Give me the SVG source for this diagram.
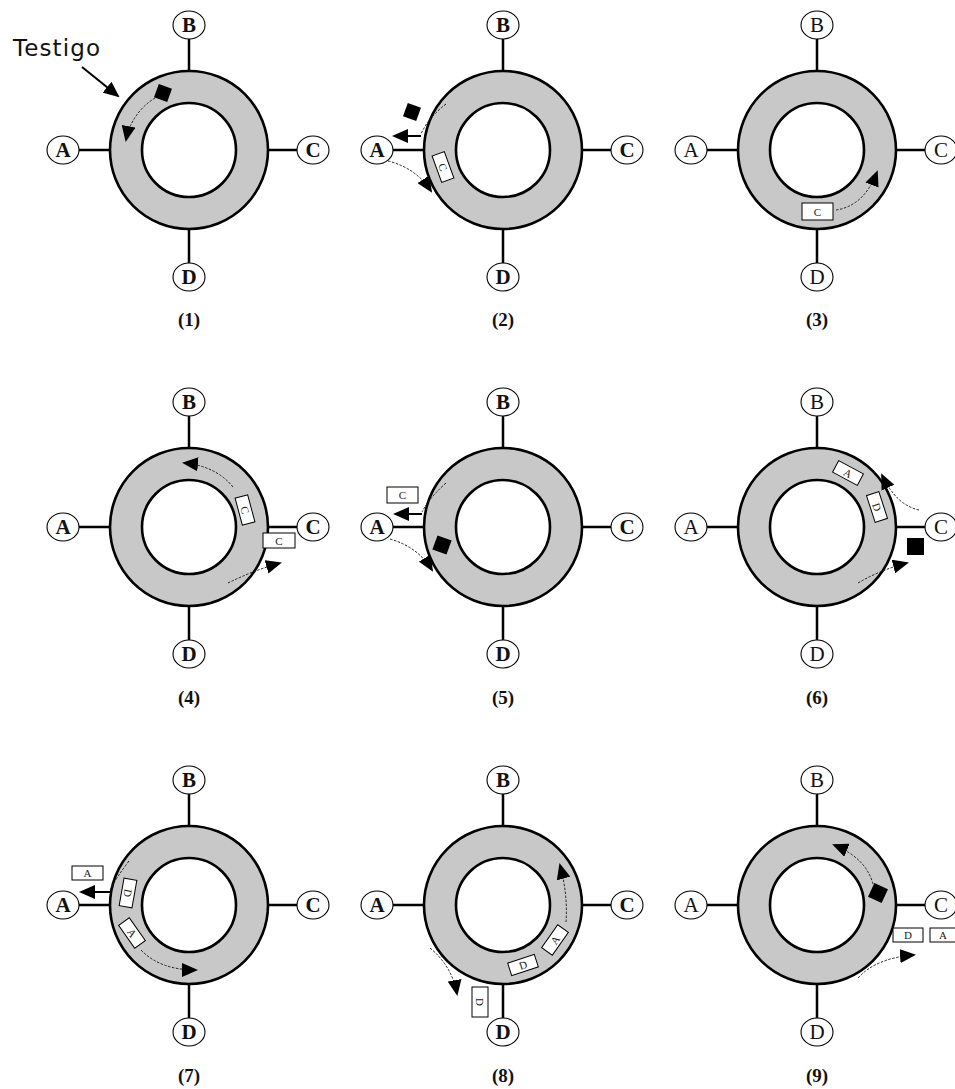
<svg xmlns="http://www.w3.org/2000/svg" width="955" height="1089" viewBox="0 0 955 1089">
<defs>
<style>
.bg{fill:#fff}
.outer{fill:#c8c8c8;stroke:#000;stroke-width:2.6}
.inner{fill:#fff;stroke:#000;stroke-width:2.6}
.link{stroke:#000;stroke-width:2.5;fill:none}
.node ellipse{fill:#fff;stroke:#000;stroke-width:1.1}
.nt{font-family:"Liberation Serif",serif;font-size:21px;font-weight:bold;text-anchor:middle;fill:#111}
.nr{font-weight:normal}
.cap{font-family:"Liberation Serif",serif;font-size:19px;font-weight:bold;text-anchor:middle;fill:#111}
.fr{fill:#fff;stroke:#000;stroke-width:1}
.ft{font-family:"Liberation Serif",serif;font-size:11px;text-anchor:middle;fill:#222}
.tok{fill:#000}
.dot{fill:none;stroke:#222;stroke-width:1;stroke-dasharray:2.5 1.5;marker-end:url(#ah)}
.dotn{fill:none;stroke:#222;stroke-width:1;stroke-dasharray:2.5 1.5}
.arr{fill:none;stroke:#000;stroke-width:2;marker-end:url(#ah)}
</style>
<marker id="ah" viewBox="0 0 16 14" refX="14" refY="7" markerWidth="16" markerHeight="14" markerUnits="userSpaceOnUse" orient="auto">
<path d="M0,0 L16,7 L0,14 z" fill="#000"/>
</marker>
<g id="ring"><circle class="outer" r="79"/><circle class="inner" r="47"/></g>
</defs>
<rect class="bg" width="955" height="1089"/>

<!-- connectors: ring-to-station links -->
<g id="connectors">
<path class="link" d="M189,39V71 M189,229V263 M79,150H110 M268,150H297"/>
<path class="link" d="M503,39V71 M503,229V263 M393,150H424 M582,150H611"/>
<path class="link" d="M817,39V71 M817,229V263 M707,150H738 M896,150H925"/>
<path class="link" d="M189,416V448 M189,606V640 M79,527H110 M268,527H297"/>
<path class="link" d="M503,416V448 M503,606V640 M393,527H424 M582,527H611"/>
<path class="link" d="M817,416V448 M817,606V640 M707,527H738 M896,527H925"/>
<path class="link" d="M189,794V826 M189,984V1018 M79,905H110 M268,905H297"/>
<path class="link" d="M503,794V826 M503,984V1018 M393,905H424 M582,905H611"/>
<path class="link" d="M817,794V826 M817,984V1018 M707,905H738 M896,905H925"/>
</g>

<!-- Diagram 1 -->
<g id="diagram1">
<use href="#ring" x="189" y="150"/>
<g id="d1-B" class="node"><ellipse cx="189" cy="25" rx="16" ry="14"/><text class="nt" x="189" y="32">B</text></g>
<g id="d1-A" class="node"><ellipse cx="63" cy="150" rx="16" ry="14"/><text class="nt" x="63" y="157">A</text></g>
<g id="d1-C" class="node"><ellipse cx="313" cy="150" rx="16" ry="14"/><text class="nt" x="313" y="157">C</text></g>
<g id="d1-D" class="node"><ellipse cx="189" cy="277" rx="16" ry="14"/><text class="nt" x="189" y="284">D</text></g>
<rect class="tok" x="-7" y="-7" width="14" height="14" transform="translate(163,93) rotate(20)"/>
<path class="dot" d="M155,98 A63,63 0 0 0 126,140"/>
<text x="13" y="56" font-family="DejaVu Sans, sans-serif" font-size="23" fill="#111" textLength="87">Testigo</text>
<path class="arr" d="M82,67 L118,96"/>
<text class="cap" x="189" y="326">(1)</text>
</g>

<!-- Diagram 2 -->
<g id="diagram2">
<use href="#ring" x="503" y="150"/>
<g id="d2-B" class="node"><ellipse cx="503" cy="25" rx="16" ry="14"/><text class="nt" x="503" y="32">B</text></g>
<g id="d2-A" class="node"><ellipse cx="377" cy="150" rx="16" ry="14"/><text class="nt" x="377" y="157">A</text></g>
<g id="d2-C" class="node"><ellipse cx="627" cy="150" rx="16" ry="14"/><text class="nt" x="627" y="157">C</text></g>
<g id="d2-D" class="node"><ellipse cx="503" cy="277" rx="16" ry="14"/><text class="nt" x="503" y="284">D</text></g>
<rect class="tok" x="-7" y="-7" width="14" height="14" transform="translate(412,112) rotate(20)"/>
<path class="dotn" d="M446,104 Q428,118 421,134"/>
<path class="arr" d="M421,136 L394,136"/>
<g transform="translate(443,167) rotate(70)"><rect class="fr" x="-14" y="-6.5" width="28" height="13"/><text class="ft" y="4">C</text></g>
<path class="dot" d="M388,161 Q416,168 431,191"/>
<text class="cap" x="503" y="326">(2)</text>
</g>

<!-- Diagram 3 -->
<g id="diagram3">
<use href="#ring" x="817" y="150"/>
<g id="d3-B" class="node"><ellipse cx="817" cy="25" rx="16" ry="14"/><text class="nt nr" x="817" y="32">B</text></g>
<g id="d3-A" class="node"><ellipse cx="691" cy="150" rx="16" ry="14"/><text class="nt nr" x="691" y="157">A</text></g>
<g id="d3-C" class="node"><ellipse cx="941" cy="150" rx="16" ry="14"/><text class="nt nr" x="941" y="157">C</text></g>
<g id="d3-D" class="node"><ellipse cx="817" cy="277" rx="16" ry="14"/><text class="nt nr" x="817" y="284">D</text></g>
<rect class="fr" x="802" y="203" width="31" height="17"/><text class="ft" x="817.5" y="215.5">C</text>
<path class="dot" d="M836,210 Q864,206 877,172"/>
<text class="cap" x="817" y="326">(3)</text>
</g>

<!-- Diagram 4 -->
<g id="diagram4">
<use href="#ring" x="189" y="527"/>
<g id="d4-B" class="node"><ellipse cx="189" cy="402" rx="16" ry="14"/><text class="nt" x="189" y="409">B</text></g>
<g id="d4-A" class="node"><ellipse cx="63" cy="527" rx="16" ry="14"/><text class="nt" x="63" y="534">A</text></g>
<g id="d4-C" class="node"><ellipse cx="313" cy="527" rx="16" ry="14"/><text class="nt" x="313" y="534">C</text></g>
<g id="d4-D" class="node"><ellipse cx="189" cy="654" rx="16" ry="14"/><text class="nt" x="189" y="661">D</text></g>
<path class="dot" d="M233,487 Q216,466 184,463"/>
<g transform="translate(245,510) rotate(75)"><rect class="fr" x="-14" y="-6.5" width="28" height="13"/><text class="ft" y="4">C</text></g>
<rect class="fr" x="263" y="533" width="32" height="15"/><text class="ft" x="279" y="544.5">C</text>
<path class="dot" d="M228,583 Q252,571 280,563"/>
<text class="cap" x="189" y="704">(4)</text>
</g>

<!-- Diagram 5 -->
<g id="diagram5">
<use href="#ring" x="503" y="527"/>
<g id="d5-B" class="node"><ellipse cx="503" cy="402" rx="16" ry="14"/><text class="nt" x="503" y="409">B</text></g>
<g id="d5-A" class="node"><ellipse cx="377" cy="527" rx="16" ry="14"/><text class="nt" x="377" y="534">A</text></g>
<g id="d5-C" class="node"><ellipse cx="627" cy="527" rx="16" ry="14"/><text class="nt" x="627" y="534">C</text></g>
<g id="d5-D" class="node"><ellipse cx="503" cy="654" rx="16" ry="14"/><text class="nt" x="503" y="661">D</text></g>
<rect class="fr" x="387" y="487" width="31" height="16"/><text class="ft" x="402.5" y="499">C</text>
<path class="dotn" d="M446,483 Q430,497 422,512"/>
<path class="arr" d="M422,514 L395,514"/>
<rect class="tok" x="-7.5" y="-7.5" width="15" height="15" transform="translate(442,545) rotate(20)"/>
<path class="dot" d="M390,539 Q418,547 432,570"/>
<text class="cap" x="503" y="704">(5)</text>
</g>

<!-- Diagram 6 -->
<g id="diagram6">
<use href="#ring" x="817" y="527"/>
<g id="d6-B" class="node"><ellipse cx="817" cy="402" rx="16" ry="14"/><text class="nt nr" x="817" y="409">B</text></g>
<g id="d6-A" class="node"><ellipse cx="691" cy="527" rx="16" ry="14"/><text class="nt nr" x="691" y="534">A</text></g>
<g id="d6-C" class="node"><ellipse cx="941" cy="527" rx="16" ry="14"/><text class="nt nr" x="941" y="534">C</text></g>
<g id="d6-D" class="node"><ellipse cx="817" cy="654" rx="16" ry="14"/><text class="nt nr" x="817" y="661">D</text></g>
<g transform="translate(848,473) rotate(28)"><rect class="fr" x="-14" y="-6.5" width="28" height="13"/><text class="ft" y="4">A</text></g>
<g transform="translate(877,507) rotate(72)"><rect class="fr" x="-14" y="-6.5" width="28" height="13"/><text class="ft" y="4">D</text></g>
<path class="dot" d="M919,510 Q896,505 882,475"/>
<rect class="tok" x="907" y="538" width="17" height="17"/>
<path class="dot" d="M858,583 Q880,570 907,563"/>
<text class="cap" x="817" y="704">(6)</text>
</g>

<!-- Diagram 7 -->
<g id="diagram7">
<use href="#ring" x="189" y="905"/>
<g id="d7-B" class="node"><ellipse cx="189" cy="780" rx="16" ry="14"/><text class="nt" x="189" y="787">B</text></g>
<g id="d7-A" class="node"><ellipse cx="63" cy="905" rx="16" ry="14"/><text class="nt" x="63" y="912">A</text></g>
<g id="d7-C" class="node"><ellipse cx="313" cy="905" rx="16" ry="14"/><text class="nt" x="313" y="912">C</text></g>
<g id="d7-D" class="node"><ellipse cx="189" cy="1032" rx="16" ry="14"/><text class="nt" x="189" y="1039">D</text></g>
<rect class="fr" x="72" y="866" width="31" height="14"/><text class="ft" x="87.5" y="877">A</text>
<path class="dotn" d="M129,861 Q116,878 110,890"/>
<path class="arr" d="M110,892 L81,892"/>
<g transform="translate(128,893) rotate(100)"><rect class="fr" x="-14" y="-6.5" width="28" height="13"/><text class="ft" y="4">D</text></g>
<g transform="translate(132,933) rotate(55)"><rect class="fr" x="-14" y="-6.5" width="28" height="13"/><text class="ft" y="4">A</text></g>
<path class="dot" d="M141,950 Q160,970 196,970"/>
<text class="cap" x="189" y="1082">(7)</text>
</g>

<!-- Diagram 8 -->
<g id="diagram8">
<use href="#ring" x="503" y="905"/>
<g id="d8-B" class="node"><ellipse cx="503" cy="780" rx="16" ry="14"/><text class="nt" x="503" y="787">B</text></g>
<g id="d8-A" class="node"><ellipse cx="377" cy="905" rx="16" ry="14"/><text class="nt" x="377" y="912">A</text></g>
<g id="d8-C" class="node"><ellipse cx="627" cy="905" rx="16" ry="14"/><text class="nt" x="627" y="912">C</text></g>
<g id="d8-D" class="node"><ellipse cx="503" cy="1032" rx="16" ry="14"/><text class="nt" x="503" y="1039">D</text></g>
<path class="dot" d="M566,922 Q568,895 560,865"/>
<g transform="translate(555,940) rotate(-55)"><rect class="fr" x="-14" y="-6.5" width="28" height="13"/><text class="ft" y="4">A</text></g>
<g transform="translate(523,965) rotate(-18)"><rect class="fr" x="-14" y="-6.5" width="28" height="13"/><text class="ft" y="4">D</text></g>
<path class="dot" d="M430,948 Q452,966 457,994"/>
<rect class="fr" x="472" y="987" width="16" height="30"/><text class="ft" transform="translate(480,1002) rotate(90)" y="4">D</text>
<text class="cap" x="503" y="1082">(8)</text>
</g>

<!-- Diagram 9 -->
<g id="diagram9">
<use href="#ring" x="817" y="905"/>
<g id="d9-B" class="node"><ellipse cx="817" cy="780" rx="16" ry="14"/><text class="nt nr" x="817" y="787">B</text></g>
<g id="d9-A" class="node"><ellipse cx="691" cy="905" rx="16" ry="14"/><text class="nt nr" x="691" y="912">A</text></g>
<g id="d9-C" class="node"><ellipse cx="941" cy="905" rx="16" ry="14"/><text class="nt nr" x="941" y="912">C</text></g>
<g id="d9-D" class="node"><ellipse cx="817" cy="1032" rx="16" ry="14"/><text class="nt nr" x="817" y="1039">D</text></g>
<rect class="tok" x="-7.5" y="-7.5" width="15" height="15" transform="translate(878,893) rotate(25)"/>
<path class="dot" d="M873,884 Q866,858 834,845"/>
<rect class="fr" x="893" y="928" width="30" height="14"/><text class="ft" x="908" y="939">D</text>
<rect class="fr" x="930" y="928" width="28" height="14"/><text class="ft" x="943" y="939">A</text>
<path class="dot" d="M858,978 Q876,958 914,955"/>
<text class="cap" x="817" y="1082">(9)</text>
</g>
</svg>
